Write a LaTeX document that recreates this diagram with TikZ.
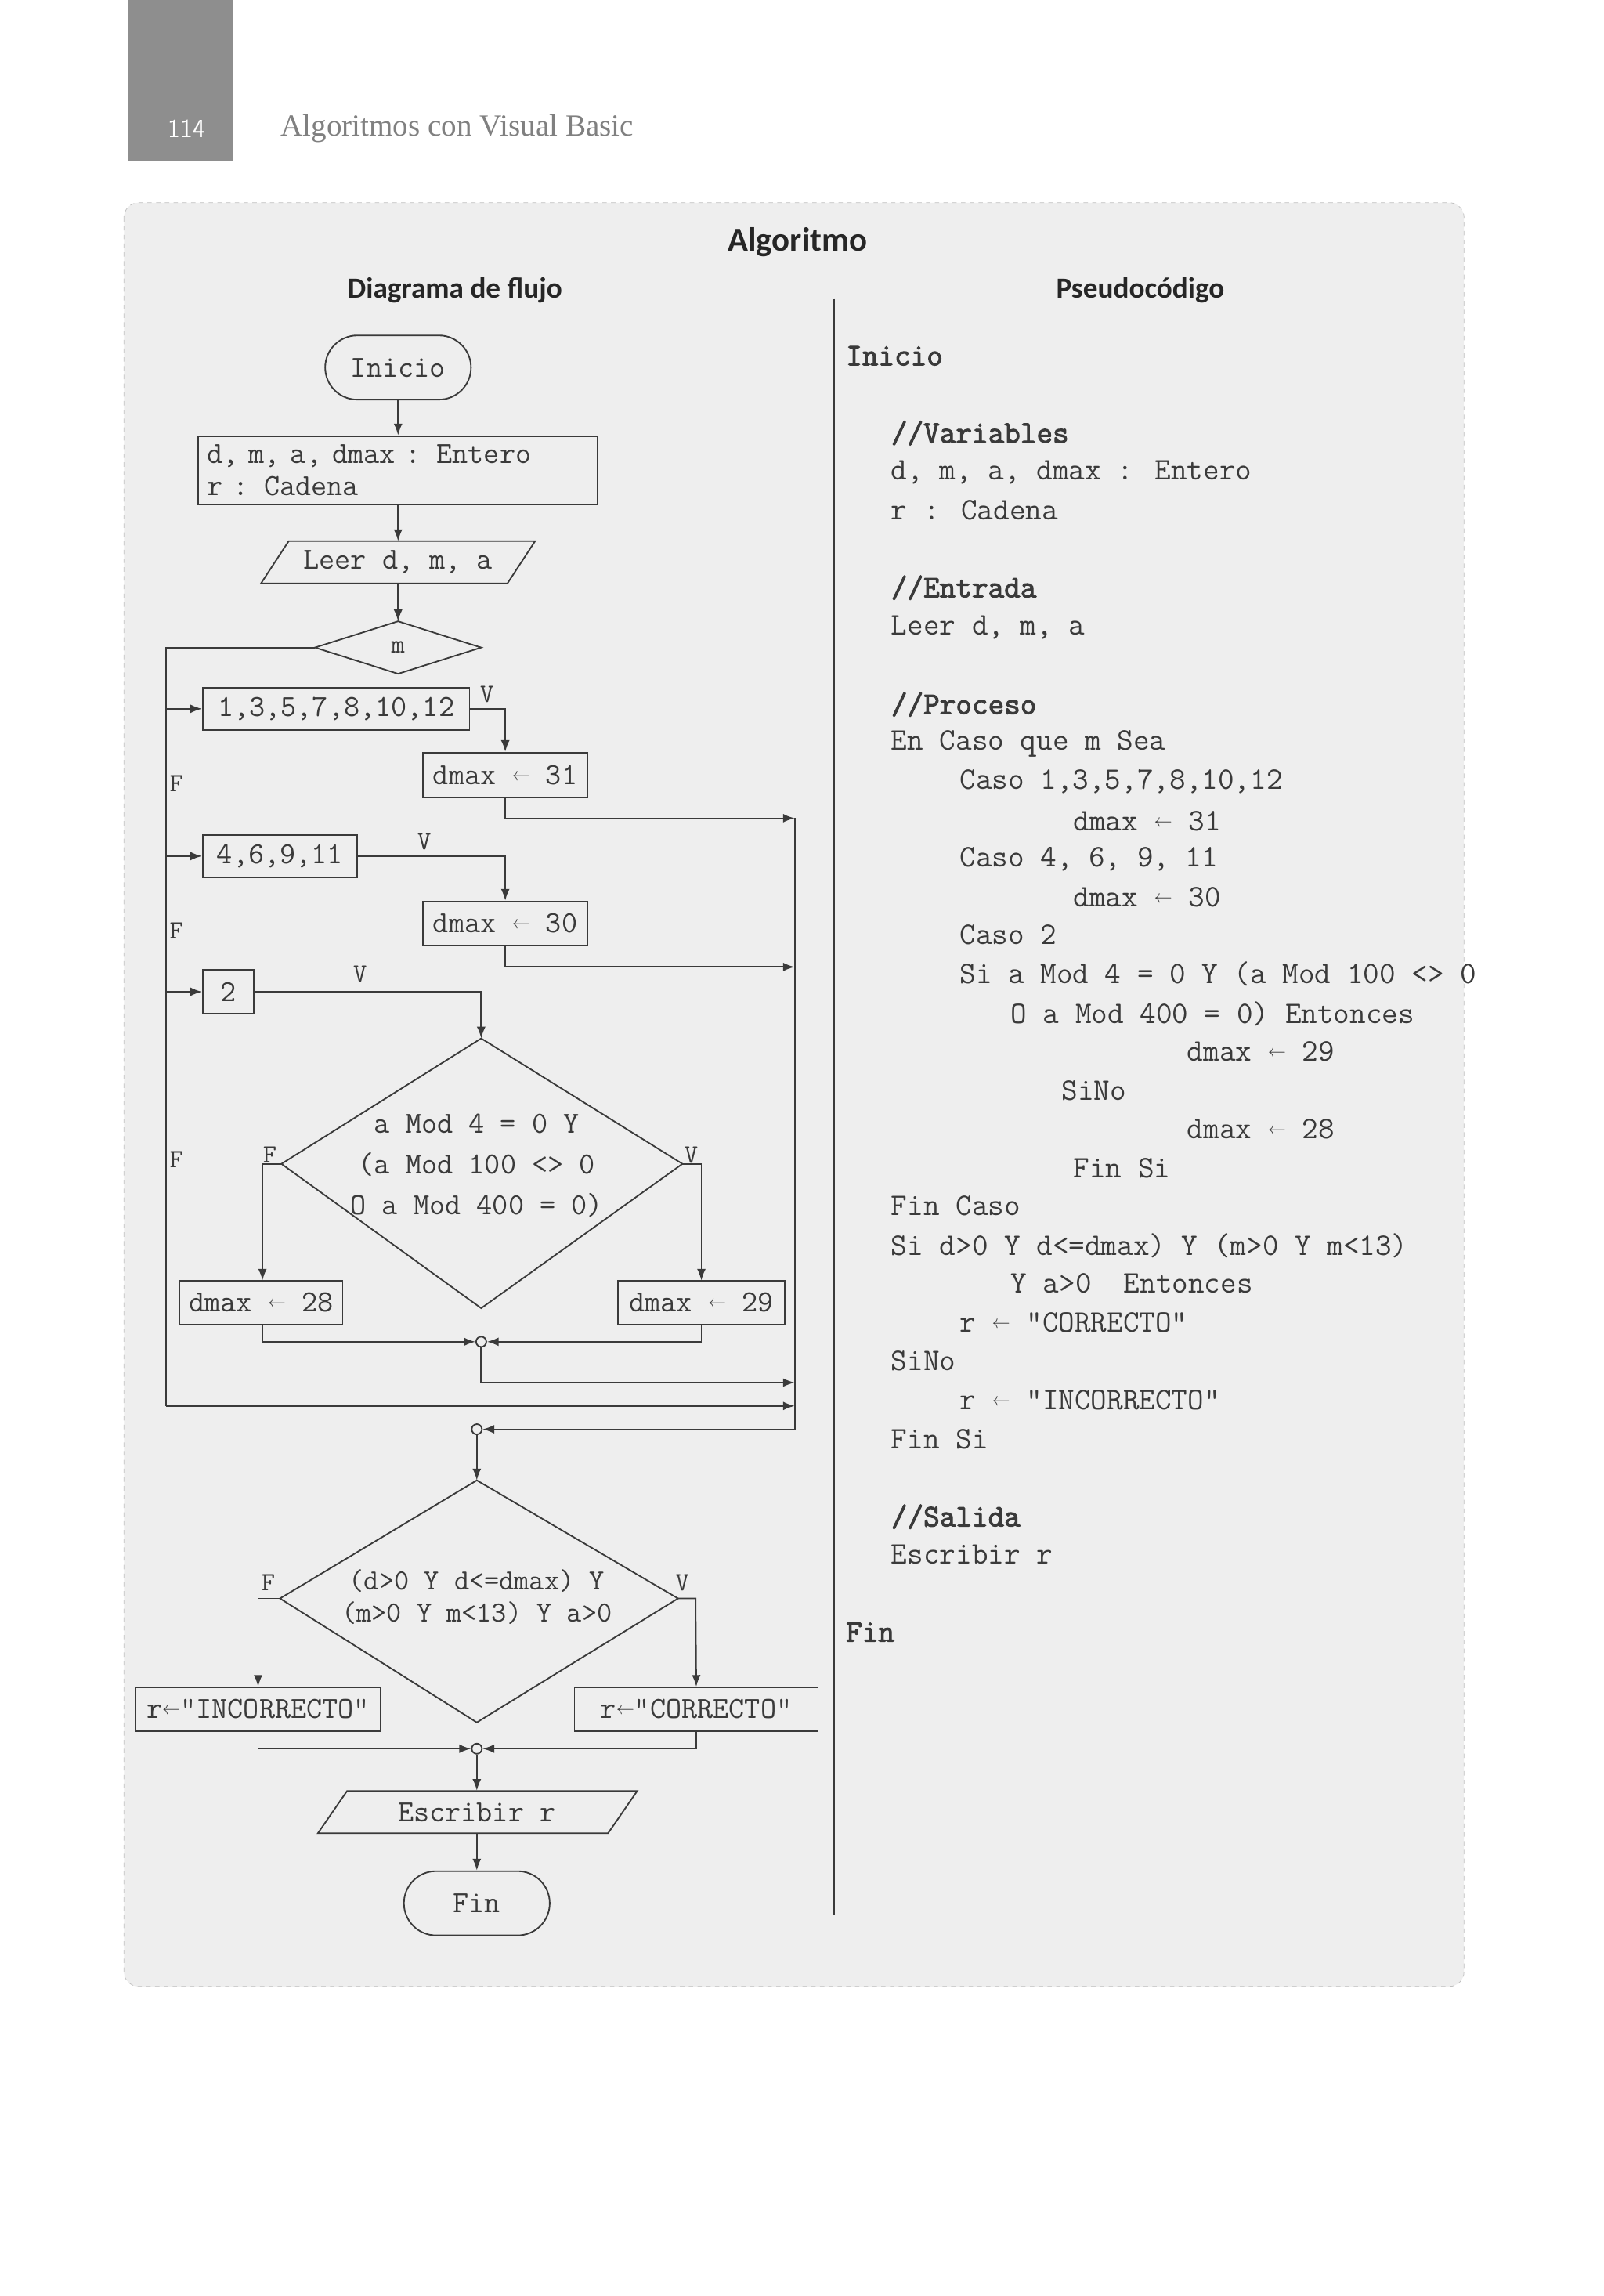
\documentclass[tikz,border=0pt]{standalone}
\usepackage{fontspec}
\setmainfont{Liberation Serif}
\newfontfamily\mono{Latin Modern Mono}
\newfontfamily\monob{Latin Modern Mono}[FakeBold=2.5]
\newfontfamily\hsans{Carlito}
\usetikzlibrary{arrows.meta}
\definecolor{panel}{HTML}{EEEEEE}
\definecolor{ink}{HTML}{3A3A3A}
\definecolor{tabgray}{HTML}{8E8E8E}
\newcommand{\la}{\raisebox{0.3ex}{\scalebox{0.6}{$\leftarrow$}}}
\tikzset{
 box/.style={draw=ink,line width=1pt,inner sep=0,font=\mono\fontsize{21}{24}\selectfont,text=ink},
 txt/.style={inner sep=0,font=\mono\fontsize{21}{24}\selectfont,text=ink},
 code/.style={anchor=west,inner sep=0,font=\mono\fontsize{21.5}{22}\selectfont,text=ink},
 codeb/.style={anchor=west,inner sep=0,font=\monob\fontsize{21.5}{22}\selectfont,text=ink},
 ln/.style={draw=ink,line width=1pt},
 arr/.style={ln,-{Latex[length=8pt,width=6pt]}},
 lbl/.style={inner sep=0,font=\mono\fontsize{18}{18}\selectfont,text=ink},
 junc/.style={circle,draw=ink,line width=1pt,fill=panel,inner sep=0,minimum size=7pt},
 shp/.style={draw=ink,line width=1pt},
}
\begin{document}
\begin{tikzpicture}[x=1pt,y=-1pt]
\useasboundingbox (0,0) rectangle (1100,1574.3);
\fill[white] (0,0) rectangle (1100,1574.3);
% header
\fill[tabgray] (88,0) rectangle (160,110);
\node[text=white,font=\sffamily\fontsize{18}{20}\selectfont] (pg) at (128,88) {114};
\node[anchor=west,text=gray,font=\fontsize{21}{24}\selectfont] (ttl) at (189,88) {Algoritmos con Visual Basic};
% panel
\draw[draw=gray!50,dashed,fill=panel,rounded corners=10] (85,139) rectangle (1004,1362);
\node[font=\hsans\bfseries\fontsize{23}{26}\selectfont,text=black!85] (alg) at (547,166) {Algoritmo};
\node[font=\hsans\bfseries\fontsize{20}{22}\selectfont,text=black!85] (hdf) at (312,199) {Diagrama de flujo};
\node[font=\hsans\bfseries\fontsize{20}{22}\selectfont,text=black!85] (hps) at (782,199) {Pseudocódigo};
\draw[ink,line width=1.2pt] (572,205) -- (572,1313);

% ---------- flowchart ----------
\coordinate (lx) at (114,0);
\coordinate (rx) at (545,0);
\node[box,rounded corners=22,minimum width=100,minimum height=44] (ini) at (273,252) {Inicio};
\node[box,minimum width=274,minimum height=47,text width=262,align=left,inner xsep=6] (decl) at (273,322.5) {d, m, a, dmax : Entero\\[-2pt]r : Cadena};
\draw[shp] (198,371) -- (367,371) -- (348,400) -- (179,400) -- cycle;
\node[txt,minimum height=29] (leer) at (273,385.5) {Leer d, m, a};
\draw[shp] (273,426) -- (330,444) -- (273,462) -- (216,444) -- cycle;
\node[lbl] (m) at (273,444) {m};
\coordinate (mT) at (273,426); \coordinate (mL) at (216,444);
\draw[arr] (ini) -- (decl);
\draw[arr] (decl) -- (leer.north |- 0,371);
\draw[arr] (leer.south |- 0,400) -- (mT);

\node[box,minimum width=183,minimum height=29] (c1) at (230.5,486) {1,3,5,7,8,10,12};
\node[box,minimum width=113,minimum height=31] (d31) at (346.5,531.5) {dmax \la{} 31};
\node[box,minimum width=106,minimum height=29] (c2) at (192,587) {4,6,9,11};
\node[box,minimum width=113,minimum height=30] (d30) at (346.5,633) {dmax \la{} 30};
\node[box,minimum width=35,minimum height=30] (c3) at (156.5,680) {2};

\draw[ln] (mL) -- (mL -| lx) -- (lx |- 0,964);
\draw[arr] (lx |- 0,964) -- (rx |- 0,964);
\draw[arr] (lx |- c1.west) -- (c1.west);
\draw[arr] (lx |- c2.west) -- (c2.west);
\draw[arr] (lx |- c3.west) -- (c3.west);
\node[lbl] (f1) at (121,537) {F};
\node[lbl] (f2) at (121,638) {F};
\node[lbl] (f3) at (121,795) {F};

\draw[arr] (c1.east) -| (d31.north);
\node[lbl] (v1) at (334,476) {V};
\draw[arr] (d31.south) |- (rx |- 0,561);
\draw[arr] (c2.east) -| (d30.north);
\node[lbl] (v2) at (291,577) {V};
\draw[arr] (d30.south) |- (rx |- 0,663);
\node[lbl] (v3) at (247,668) {V};

% leap year diamond
\coordinate (bT) at (330,712); \coordinate (bL) at (193,798);
\coordinate (bR) at (468,798); \coordinate (bB) at (330,897);
\draw[shp] (bT) -- (bR) -- (bB) -- (bL) -- cycle;
\node[txt,align=center,font=\mono\fontsize{21}{28}\selectfont] (leap) at (327,799) {a Mod 4 = 0 Y\\(a Mod 100 <> 0\\O a Mod 400 = 0)};
\draw[arr] (c3.east) -| (bT);
\node[box,minimum width=112,minimum height=30] (d28) at (179,893) {dmax \la{} 28};
\node[box,minimum width=114,minimum height=30] (d29) at (481,893) {dmax \la{} 29};
\draw[arr] (bL) -- (180,798) -- (180,878);
\draw[arr] (bR) -- (481,798) -- (481,878);
\node[lbl] (fl) at (185,792) {F};
\node[lbl] (vl) at (474,792) {V};
\node[junc] (j1) at (330,920) {};
\draw[arr] (d28.south -| 180,0) |- (j1.west);
\draw[arr] (d29.south -| 481,0) |- (j1.east);
\draw[arr] (j1.south) |- (rx |- 0,948);

\draw[ln] (rx |- 0,561) -- (rx |- 0,980);
\node[junc] (j2) at (327,980) {};
\draw[arr] (rx |- 0,980) -- (j2.east);

% validity diamond
\coordinate (vT) at (327,1015); \coordinate (vL) at (192,1096);
\coordinate (vR) at (465,1096); \coordinate (vB) at (327,1181);
\draw[shp] (vT) -- (vR) -- (vB) -- (vL) -- cycle;
\node[txt,align=center,font=\mono\fontsize{20}{22}\selectfont] (valid) at (327,1095) {(d>0 Y d<=dmax) Y\\(m>0 Y m<13) Y a>0};
\draw[arr] (j2.south) -- (vT);
\node[box,minimum width=168,minimum height=30] (inc) at (177,1172) {r\la”INCORRECTO”};
\node[box,minimum width=167,minimum height=30] (cor) at (477.5,1172) {r\la”CORRECTO”};
\draw[arr] (vL) -- (177,1096) -- (inc.north);
\draw[arr] (vR) -- (477,1096) -- (cor.north);
\node[lbl] (fv) at (184,1085) {F};
\node[lbl] (vv) at (468,1085) {V};
\node[junc] (j3) at (327,1199) {};
\draw[arr] (inc.south) |- (j3.west);
\draw[arr] (cor.south) |- (j3.east);
\draw[shp] (238,1228) -- (437,1228) -- (417,1257) -- (218,1257) -- cycle;
\node[txt,minimum height=29] (esc) at (327,1242.5) {Escribir r};
\draw[arr] (j3.south) -- (esc.north);
\node[box,rounded corners=22,minimum width=100,minimum height=44] (fin) at (327,1305) {Fin};
\draw[arr] (esc.south) -- (fin.north);

% ---------- pseudocode ----------
\node[codeb] (p1) at (580,244) {Inicio};
\node[codeb] (p2) at (611,297) {//Variables};
\node[code] (p3) at (611,324) {d, m, a, dmax : Entero};
\node[code] (p4) at (611,350) {r : Cadena};
\node[codeb] (p5) at (611,403) {//Entrada};
\node[code] (p6) at (611,430) {Leer d, m, a};
\node[codeb] (p7) at (611,483) {//Proceso};
\node[code] (p8) at (611,510) {En Caso que m Sea};
\node[code] (p9) at (658,536) {Caso 1,3,5,7,8,10,12};
\node[code] (p10) at (736,563) {dmax \la{} 31};
\node[code] (p11) at (658,589) {Caso 4, 6, 9, 11};
\node[code] (p12) at (736,615) {dmax \la{} 30};
\node[code] (p13) at (658,641) {Caso 2};
\node[code] (p14) at (658,668) {Si a Mod 4 = 0 Y (a Mod 100 <> 0};
\node[code] (p15) at (693,695) {O a Mod 400 = 0) Entonces};
\node[code] (p16) at (814,721) {dmax \la{} 29};
\node[code] (p17) at (728,748) {SiNo};
\node[code] (p18) at (814,774) {dmax \la{} 28};
\node[code] (p19) at (736,801) {Fin Si};
\node[code] (p20) at (611,827) {Fin Caso};
\node[code] (p21) at (611,854) {Si d>0 Y d<=dmax) Y (m>0 Y m<13)};
\node[code] (p22) at (693,880) {Y a>0~ Entonces};
\node[code] (p23) at (658,907) {r \la{} “CORRECTO”};
\node[code] (p24) at (611,933) {SiNo};
\node[code] (p25) at (658,960) {r \la{} “INCORRECTO”};
\node[code] (p26) at (611,987) {Fin Si};
\node[codeb] (p27) at (611,1040) {//Salida};
\node[code] (p28) at (611,1066) {Escribir r};
\node[codeb] (p29) at (580,1119) {Fin};
\end{tikzpicture}
\end{document}
